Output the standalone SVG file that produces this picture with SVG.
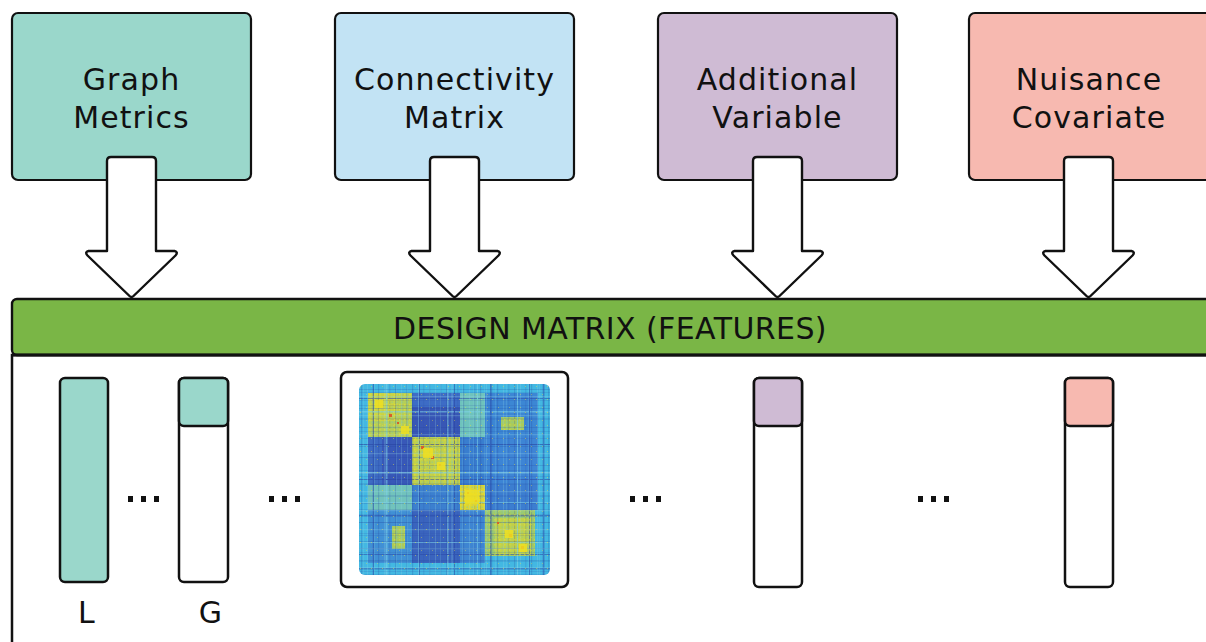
<svg xmlns="http://www.w3.org/2000/svg" width="1206" height="642" viewBox="0 0 1206 642">
  <style>
    .box { stroke: #111; stroke-width: 2.2; }
    .lbl { font-family: "DejaVu Sans", "Liberation Sans", sans-serif; font-size: 30px; fill: #111; text-anchor: middle; letter-spacing: 1.1px; }
    .arrow { fill: #fff; stroke: #111; stroke-width: 2.4; stroke-linejoin: round; }
    .col { fill: #fff; stroke: #111; stroke-width: 2.5; }
    .dot { fill: #111; }
  </style>
  <defs>
    <path id="arr" d="M-24.5,161 Q-24.5,157 -20.5,157 L20.5,157 Q24.5,157 24.5,161 L24.5,251 L43,251 Q47,252 44,255.5 L2,296 Q0,298 -2,296 L-44,255.5 Q-47,252 -43,251 L-24.5,251 Z"/>
    <clipPath id="hmclip"><rect x="0" y="0" width="191" height="191" rx="6"/></clipPath>
    <pattern id="streak1" width="17" height="19" patternUnits="userSpaceOnUse">
      <rect x="2" y="0" width="1.2" height="19" fill="#1f3f9a" opacity="0.22"/>
      <rect x="8" y="0" width="0.8" height="19" fill="#8fd6e8" opacity="0.3"/>
      <rect x="13" y="0" width="1.5" height="19" fill="#2a4ba5" opacity="0.15"/>
      <rect x="0" y="5" width="17" height="1" fill="#1f3f9a" opacity="0.2"/>
      <rect x="0" y="12" width="17" height="1.2" fill="#9ad8e8" opacity="0.25"/>
      <rect x="0" y="16" width="17" height="0.8" fill="#2a4ba5" opacity="0.2"/>
    </pattern>
    <pattern id="streak2" width="11" height="13" patternUnits="userSpaceOnUse">
      <rect x="4" y="0" width="0.8" height="13" fill="#7fd0e0" opacity="0.25"/>
      <rect x="0" y="8" width="11" height="0.8" fill="#24449c" opacity="0.18"/>
      <rect x="1" y="2" width="1" height="1" fill="#e8e040" opacity="0.5"/>
      <rect x="7" y="10" width="1" height="1" fill="#e8e040" opacity="0.4"/>
    </pattern>
    <pattern id="speck" width="5" height="5" patternUnits="userSpaceOnUse">
      <rect x="0" y="0" width="1.5" height="1.5" fill="#f4e61c" opacity="0.8"/>
      <rect x="2.5" y="2.5" width="1.5" height="1.5" fill="#78c4a8" opacity="0.6"/>
      <rect x="3.5" y="0.5" width="1" height="1" fill="#f0a020" opacity="0.3"/>
    </pattern>
  </defs>

  <!-- source nodes -->
  <g id="graph-metrics">
    <rect class="box" x="12" y="13" width="239" height="167" rx="6" fill="#9ad7cb"/>
    <text class="lbl" x="131.5" y="90">Graph</text>
    <text class="lbl" x="131.5" y="128">Metrics</text>
  </g>
  <g id="connectivity-matrix">
    <rect class="box" x="335" y="13" width="239" height="167" rx="6" fill="#c2e3f4"/>
    <text class="lbl" x="454.5" y="90">Connectivity</text>
    <text class="lbl" x="454.5" y="128">Matrix</text>
  </g>
  <g id="additional-variable">
    <rect class="box" x="658" y="13" width="239" height="167" rx="6" fill="#cfbbd4"/>
    <text class="lbl" x="777.5" y="90">Additional</text>
    <text class="lbl" x="777.5" y="128">Variable</text>
  </g>
  <g id="nuisance-covariate">
    <rect class="box" x="969" y="13" width="245" height="167" rx="6" fill="#f7b9b0"/>
    <text class="lbl" x="1089" y="90">Nuisance</text>
    <text class="lbl" x="1089" y="128">Covariate</text>
  </g>

  <!-- connectors -->
  <g id="connectors">
    <use href="#arr" class="arrow" transform="translate(131.5,0)"/>
    <use href="#arr" class="arrow" transform="translate(454.5,0)"/>
    <use href="#arr" class="arrow" transform="translate(777.5,0)"/>
    <use href="#arr" class="arrow" transform="translate(1088.5,0)"/>
  </g>

  <!-- design matrix -->
  <g id="design-matrix">
    <path d="M12,660 L12,355 L1220,355" fill="#fff" stroke="#111" stroke-width="2.5"/>
    <rect x="12" y="299" width="1210" height="56" rx="5" fill="#7ab646" stroke="#111" stroke-width="2.4"/>
    <line x1="12" y1="355" x2="1210" y2="355" stroke="#111" stroke-width="3.2"/>
    <text class="lbl" x="610" y="339" style="letter-spacing:0.4px">DESIGN MATRIX (FEATURES)</text>
  </g>

  <g id="col-L">
    <rect class="col" x="60" y="378" width="48" height="204" rx="5" style="fill:#9ad7cb"/>
    <text class="lbl" x="87" y="623">L</text>
  </g>
  <g id="col-G">
    <rect class="col" x="179" y="378" width="49" height="204" rx="5"/>
    <rect class="col" x="179" y="378" width="49" height="48" rx="5" style="fill:#9ad7cb"/>
    <text class="lbl" x="211" y="623">G</text>
  </g>

  <g id="col-connectivity">
    <rect class="col" x="341" y="372" width="227" height="215" rx="6"/>
    <g transform="translate(359,384)" clip-path="url(#hmclip)">
      <rect x="0" y="0" width="191" height="191" fill="#44b8e2"/>
      <!-- row A -->
      <rect x="9" y="9" width="44" height="44" fill="#b5cf5a"/>
      <rect x="9" y="9" width="30" height="28" fill="#c8d448"/>
      <rect x="53" y="9" width="48" height="44" fill="#3a58b6"/>
      <rect x="53" y="9" width="48" height="14" fill="#3e6ec6"/>
      <rect x="101" y="9" width="25" height="44" fill="#6fc4bd"/>
      <rect x="126" y="9" width="53" height="44" fill="#3d88d4"/>
      <rect x="142" y="33" width="23" height="13" fill="#a9cc5e"/>
      <!-- row B -->
      <rect x="9" y="53" width="44" height="48" fill="#3a5ab8"/>
      <rect x="9" y="53" width="14" height="48" fill="#3e6cc4"/>
      <rect x="53" y="53" width="48" height="48" fill="#c4d24a"/>
      <rect x="101" y="53" width="25" height="48" fill="#3b7ecf"/>
      <rect x="126" y="53" width="53" height="48" fill="#3f86d5"/>
      <!-- row C -->
      <rect x="9" y="101" width="44" height="25" fill="#72c4bc"/>
      <rect x="53" y="101" width="48" height="25" fill="#3d80cf"/>
      <rect x="101" y="101" width="25" height="25" fill="#dcd834"/>
      <rect x="126" y="101" width="53" height="25" fill="#3d7fd0"/>
      <!-- row D -->
      <rect x="9" y="126" width="44" height="53" fill="#4090d6"/>
      <rect x="33" y="142" width="13" height="23" fill="#a9cc5e"/>
      <rect x="53" y="126" width="48" height="53" fill="#3b64be"/>
      <rect x="101" y="126" width="25" height="53" fill="#3f86d2"/>
      <rect x="126" y="126" width="50" height="46" fill="#9fcb6a"/>
      <rect x="136" y="134" width="36" height="36" fill="#c0d24c"/>
      <!-- irregular streaks (symmetric) -->
      <g opacity="0.55">
        <rect x="14" y="0" width="1" height="191" fill="#2b4aa8"/>
        <rect x="0" y="14" width="191" height="1" fill="#2b4aa8"/>
        <rect x="27" y="0" width="1.5" height="191" fill="#7fd4ea"/>
        <rect x="0" y="27" width="191" height="1.5" fill="#7fd4ea"/>
        <rect x="60" y="0" width="1" height="191" fill="#2a46a2"/>
        <rect x="0" y="60" width="191" height="1" fill="#2a46a2"/>
        <rect x="88" y="0" width="1.5" height="191" fill="#80d2e6"/>
        <rect x="0" y="88" width="191" height="1.5" fill="#80d2e6"/>
        <rect x="95" y="0" width="1" height="191" fill="#2a46a2"/>
        <rect x="0" y="95" width="191" height="1" fill="#2a46a2"/>
        <rect x="118" y="0" width="1" height="191" fill="#7fd4ea"/>
        <rect x="0" y="118" width="191" height="1" fill="#7fd4ea"/>
        <rect x="131" y="0" width="1.5" height="191" fill="#2b4aa8"/>
        <rect x="0" y="131" width="191" height="1.5" fill="#2b4aa8"/>
        <rect x="158" y="0" width="1" height="191" fill="#80d2e6"/>
        <rect x="0" y="158" width="191" height="1" fill="#80d2e6"/>
        <rect x="170" y="0" width="1" height="191" fill="#2b4aa8"/>
        <rect x="0" y="170" width="191" height="1" fill="#2b4aa8"/>
        <rect x="184" y="0" width="1.5" height="191" fill="#2f56b0"/>
        <rect x="0" y="184" width="191" height="1.5" fill="#2f56b0"/>
      </g>
      <!-- texture -->
      <rect x="0" y="0" width="191" height="191" fill="url(#streak1)"/>
      <rect x="0" y="0" width="191" height="191" fill="url(#streak2)"/>
      <rect x="9" y="9" width="44" height="44" fill="url(#speck)" opacity="0.7"/>
      <rect x="53" y="53" width="48" height="48" fill="url(#speck)" opacity="0.7"/>
      <rect x="101" y="101" width="25" height="25" fill="url(#speck)" opacity="0.8"/>
      <rect x="126" y="126" width="50" height="46" fill="url(#speck)" opacity="0.6"/>
      <rect x="142" y="33" width="23" height="13" fill="url(#speck)" opacity="0.6"/>
      <rect x="33" y="142" width="13" height="23" fill="url(#speck)" opacity="0.6"/>
      <!-- diagonal hot spots -->
      <g fill="#d9602a">
        <rect x="30" y="30" width="3" height="3"/>
        <rect x="38" y="38" width="2" height="2"/>
        <rect x="62" y="62" width="3" height="3"/>
        <rect x="72" y="72" width="3" height="3"/>
        <rect x="80" y="80" width="2" height="2"/>
        <rect x="108" y="108" width="2" height="2"/>
        <rect x="116" y="116" width="2" height="2"/>
        <rect x="138" y="138" width="2" height="2"/>
        <rect x="150" y="150" width="3" height="3"/>
        <rect x="162" y="162" width="3" height="3"/>
      </g>
      <g fill="#f0e020" opacity="0.85">
        <rect x="16" y="16" width="8" height="8"/>
        <rect x="42" y="42" width="8" height="8"/>
        <rect x="64" y="64" width="10" height="10"/>
        <rect x="78" y="78" width="8" height="8"/>
        <rect x="106" y="106" width="14" height="14"/>
        <rect x="146" y="146" width="8" height="8"/>
        <rect x="160" y="160" width="8" height="8"/>
      </g>
    </g>
  </g>

  <g id="col-additional">
    <rect class="col" x="754" y="378" width="48" height="209" rx="5"/>
    <rect class="col" x="754" y="378" width="48" height="48" rx="5" style="fill:#cfbbd4"/>
  </g>
  <g id="col-nuisance">
    <rect class="col" x="1065" y="378" width="48" height="209" rx="5"/>
    <rect class="col" x="1065" y="378" width="48" height="48" rx="5" style="fill:#f7b9b0"/>
  </g>

  <g id="ellipses">
    <rect class="dot" x="128" y="496" width="5" height="6"/>
    <rect class="dot" x="141" y="496" width="5" height="6"/>
    <rect class="dot" x="154" y="496" width="5" height="6"/>
    <rect class="dot" x="269" y="496" width="5" height="6"/>
    <rect class="dot" x="282" y="496" width="5" height="6"/>
    <rect class="dot" x="295" y="496" width="5" height="6"/>
    <rect class="dot" x="630" y="496" width="5" height="6"/>
    <rect class="dot" x="643" y="496" width="5" height="6"/>
    <rect class="dot" x="656" y="496" width="5" height="6"/>
    <rect class="dot" x="918" y="496" width="5" height="6"/>
    <rect class="dot" x="931" y="496" width="5" height="6"/>
    <rect class="dot" x="944" y="496" width="5" height="6"/>
  </g>
</svg>
